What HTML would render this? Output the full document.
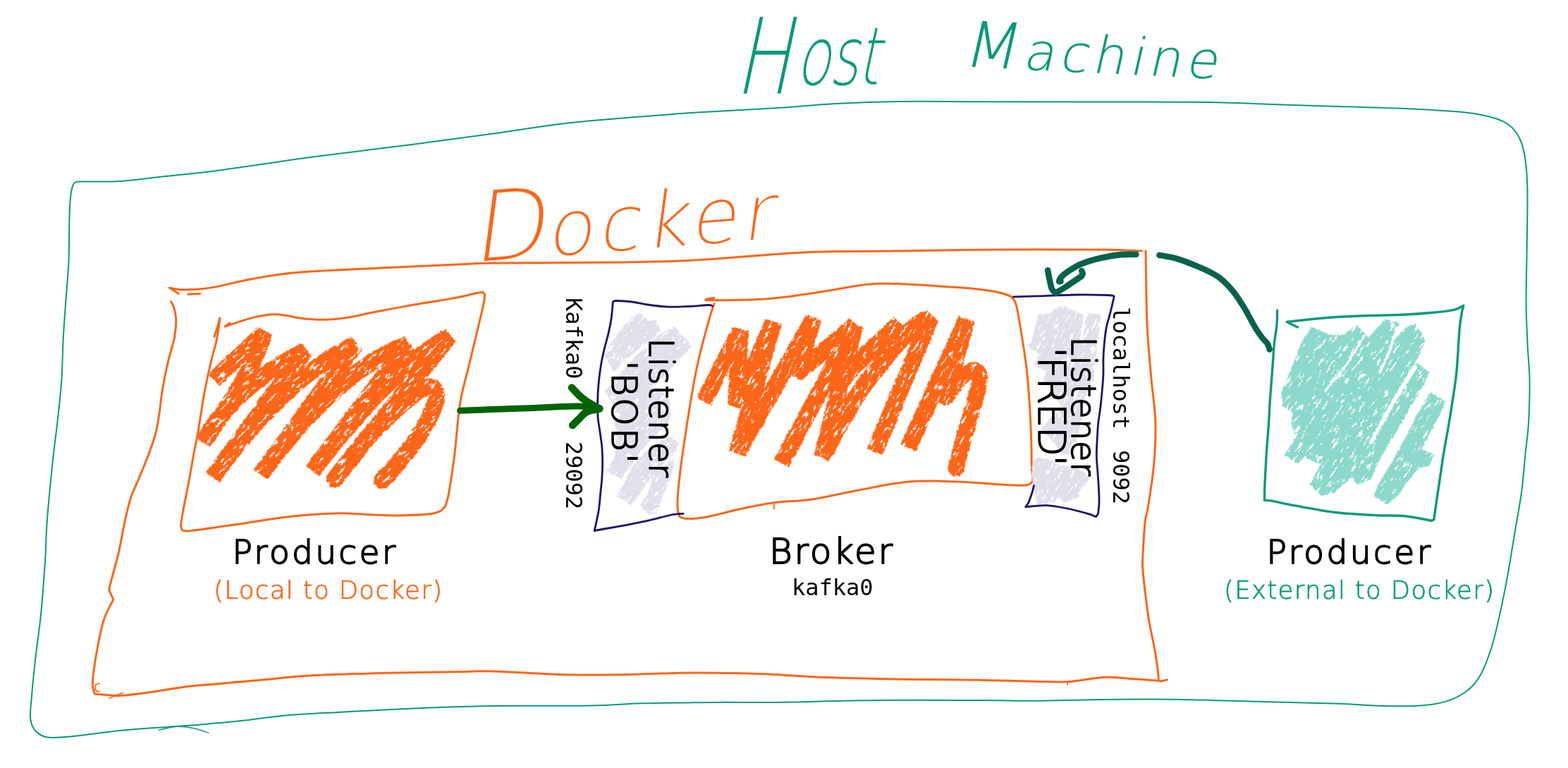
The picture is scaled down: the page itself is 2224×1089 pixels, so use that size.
<!DOCTYPE html>
<html lang="en">
<head>
<meta charset="utf-8">
<title>Kafka listeners - Docker and host machine</title>
<style>
html,body{margin:0;padding:0;background:#fff;}
body{width:2224px;height:1089px;overflow:hidden;position:relative;}
svg{display:block;position:relative;will-change:transform;}
.hand{font-family:"DejaVu Sans","Liberation Sans",sans-serif;}
.mono{font-family:"DejaVu Sans Mono","Liberation Mono",monospace;}
.ttl{position:absolute;margin:0;padding:0;white-space:nowrap;line-height:1;height:1em;transform-origin:0 100%;font-family:"DejaVu Sans","Liberation Sans",sans-serif;font-weight:200;}
#host::first-letter{font-size:150px;letter-spacing:7px;vertical-align:-13px;-webkit-text-stroke:1.4px #fff}
#machine::first-letter{font-size:90px;letter-spacing:8px;vertical-align:0px}
#docker::first-letter{font-size:138px;letter-spacing:0px;vertical-align:0px;-webkit-text-stroke:2px #fff}
</style>
</head>
<body>
<div id="host" class="ttl" style="left:1044px;top:6px;font-size:115px;color:#089a79;-webkit-text-stroke:0.4px #fff;letter-spacing:-3px;transform:rotate(0deg) skewX(-12deg) scaleX(0.7);">Host</div>
<div id="machine" class="ttl" style="left:1365px;top:18px;font-size:73px;color:#089a79;-webkit-text-stroke:0.2px #089a79;letter-spacing:6.6px;transform:rotate(2.8deg) skewX(-10deg) scaleX(1);">Machine</div>
<div id="docker" class="ttl" style="left:670px;top:256px;font-size:110px;color:#fc6618;-webkit-text-stroke:1.1px #fff;letter-spacing:5.5px;transform:rotate(-4.5deg) skewX(-12deg) scaleX(1);">Docker</div>
<svg width="2224" height="1089" viewBox="0 0 2224 1089">
<defs>
<filter id="crayon" x="-5%" y="-5%" width="110%" height="110%" color-interpolation-filters="sRGB">
<feTurbulence type="fractalNoise" baseFrequency="0.06 0.3" numOctaves="3" seed="7" result="n"/>
<feColorMatrix in="n" type="matrix" values="0 0 0 0 0  0 0 0 0 0  0 0 0 0 0  0 0 0 -20 14.1" result="m"/>
<feComposite in="SourceGraphic" in2="m" operator="in" result="t"/>
<feTurbulence type="fractalNoise" baseFrequency="0.25" numOctaves="2" seed="3" result="n2"/>
<feDisplacementMap in="t" in2="n2" scale="4" xChannelSelector="R" yChannelSelector="G"/>
</filter>
</defs>
<path d="M108.2 257.9 C109.3 257.8 104.7 257.7 115 257.5 C125.3 257.3 151.8 258 170.2 256.9 C188.6 255.8 203.7 253.3 225.3 251 C246.9 248.7 277.6 245.8 300 243 C322.4 240.2 336 237.9 360 234.5 C384 231.1 405.9 227.5 443.9 222.5 C481.9 217.5 545.8 209.9 587.8 204.5 C629.8 199.1 665.7 194.3 695.7 190.1 C725.7 185.9 743.6 182.6 767.6 179.4 C791.6 176.2 809.6 173.9 839.6 171.1 C869.6 168.3 917.5 164.6 947.5 162.4 C977.5 160.2 994 159.3 1019.4 157.8 C1044.8 156.3 1071.6 155 1100 153.2 C1128.4 151.4 1160 148.4 1190 146.8 C1220 145.2 1247 144.3 1280 143.9 C1313 143.5 1345.8 144.1 1387.8 144.2 C1429.8 144.3 1477.8 144.5 1531.7 144.6 C1585.7 144.7 1663.5 144.3 1711.5 145 C1759.5 145.7 1788 147.6 1819.4 148.6 C1850.8 149.6 1871.1 150.2 1900 151.1 C1928.9 152 1964.6 152.8 1992.9 154 C2021.2 155.2 2050.8 156.9 2070.1 158.6 C2089.4 160.3 2098.3 162.2 2108.6 164.4 C2118.9 166.7 2125.4 168.9 2131.8 172.1 C2138.2 175.3 2142.7 178.2 2147.2 183.7 C2151.7 189.2 2155.9 196.2 2158.8 204.9 C2161.7 213.6 2163.3 224.1 2164.6 235.7 C2165.9 247.3 2166.3 255 2166.5 274.3 C2166.7 293.6 2166 325.8 2165.7 351.5 C2165.4 377.2 2164.5 406.1 2164.6 428.6 C2164.7 451.1 2165.7 467.9 2166.5 486.5 C2167.3 505.1 2169.3 521.1 2169.6 540 C2169.8 558.9 2168.9 583.3 2168 600 C2167.1 616.7 2165.6 623.7 2163.9 640 C2162.2 656.3 2160.7 678.6 2158.1 697.9 C2155.5 717.2 2151.6 736.4 2148.4 755.7 C2145.2 775 2142.3 794.3 2138.8 813.6 C2135.3 832.9 2131.1 854.1 2127.2 871.5 C2123.3 888.9 2120.1 903.6 2115.6 917.8 C2111.1 931.9 2106 946.1 2100.2 956.4 C2094.4 966.7 2089.2 973.1 2080.9 979.5 C2072.6 985.9 2061.7 991.4 2050.1 994.9 C2038.5 998.4 2027.6 999.7 2011.5 1000.7 C1995.4 1001.7 1972.2 1001.2 1953.6 1000.7 C1935 1000.2 1928.3 998.7 1900 997.7 C1871.7 996.7 1820.9 995.8 1783.5 994.8 C1746.1 993.8 1711.5 992.4 1675.5 991.9 C1639.5 991.4 1600.6 991.6 1567.6 991.9 C1534.6 992.2 1507.7 993.5 1477.7 993.7 C1447.7 993.9 1426.8 993.1 1387.8 993 C1348.8 992.9 1291.9 992.5 1243.9 993 C1195.9 993.5 1137.4 995.4 1100 995.9 C1062.6 996.4 1050.8 995.7 1019.4 995.9 C988 996.1 941.5 996.5 911.5 997.3 C881.5 998.1 875.6 1000 839.6 1000.6 C803.6 1001.2 737.7 1000.2 695.7 1000.9 C653.7 1001.5 623.8 1003 587.8 1004.5 C551.8 1006 509.9 1008.3 479.9 1009.9 C449.9 1011.5 428.9 1012.4 407.9 1014.2 C386.9 1016 372 1018.7 354 1020.7 C336 1022.7 317.3 1024.5 300 1026.1 C282.7 1027.6 270.9 1028.5 250.4 1030 C229.9 1031.5 201.4 1033 176.9 1035.3 C152.4 1037.6 121.6 1042.4 103.5 1044.1 C85.4 1045.8 77 1046.8 68.2 1045.6 C59.4 1044.4 54.8 1041.2 50.6 1036.8 C46.4 1032.4 44.2 1027 43.2 1019.2 C42.2 1011.4 43.5 1004.5 44.7 989.8 C45.9 975.1 48.4 950.6 50.6 931 C52.8 911.4 55.7 894.2 57.9 872.2 C60.1 850.2 62.3 820.8 63.8 798.8 C65.3 776.8 65 763.3 66.7 740 C68.4 716.7 71.8 682.5 74.2 659.1 C76.6 635.7 79.1 619.3 81.3 599.4 C83.5 579.5 85.9 559.6 87.3 539.7 C88.7 519.8 88.7 499.1 89.7 480 C90.7 460.9 92.2 443.3 93.5 425 C94.8 406.7 96.7 388.1 97.5 370 C98.3 351.9 98 329.9 98.3 316.4 C98.6 302.9 98.8 296.3 99.3 288.9 C99.8 281.5 100.2 276.6 101 272 C101.8 267.4 102.9 263.7 104.1 261.3 C105.3 258.9 107.5 258.5 108.2 257.9" fill="none" stroke="#089a79" stroke-width="2" stroke-linecap="round" stroke-linejoin="round"/>
<path d="M225.4 1035.3 C229.6 1034.5 242.3 1030.8 250.4 1030.3 C258.5 1029.8 266.3 1030.9 273.9 1032.4 C281.5 1033.9 292.2 1038 295.9 1039.1" fill="none" stroke="#089a79" stroke-width="1.5" stroke-linecap="round" stroke-linejoin="round"/>
<path d="M1619.6 355.8 C1610 355.5 1596.6 354.3 1562 354 C1527.4 353.7 1462 353.7 1412 354 C1362 354.3 1307.3 355.3 1262 356 C1216.7 356.7 1186.4 355.8 1140 358 C1093.6 360.2 1027.8 366.7 983.8 369 C939.8 371.3 923.1 371.3 875.8 372 C828.5 372.7 736 372.6 700 373 C664 373.4 686.7 373.3 660 374.5 C633.3 375.7 580 378 540 380 C500 382 450.4 383.9 420 386.5 C389.6 389.1 375.7 392.3 357.7 395.5 C339.7 398.7 324 403.2 311.8 405.6 C299.6 408 293.5 408.9 284.3 409.7 C275.1 410.5 264.1 411 256.7 410.7 C249.3 410.4 242.9 408.4 240.2 407.9 L253 416.2" fill="none" stroke="#fc6618" stroke-width="3" stroke-linecap="round" stroke-linejoin="round"/>
<path d="M266.8 417.3 L283.4 416.6" fill="none" stroke="#fc6618" stroke-width="3.0" stroke-linecap="round" stroke-linejoin="round"/>
<path d="M242.5 427.6 C243.2 429 245.4 432.2 246.6 435.9 C247.8 439.6 248.9 445.1 249.4 449.7 C249.9 454.3 249.7 458.9 249.4 463.5 C249.1 468.1 247.8 474.4 247.5 477.2 C247.2 479.9 248.9 473.6 247.3 480 C245.7 486.4 240.5 503.9 237.7 515.8 C234.9 527.7 232.6 539.7 230.6 551.6 C228.6 563.5 227.4 577 225.8 587.4 C224.2 597.8 223.4 604.5 221 613.7 C218.6 622.9 215.5 631.6 211.5 642.4 C207.5 653.1 201.5 667.5 197.1 678.2 C192.7 688.9 188.6 696.5 185.2 706.8 C181.8 717.1 179.8 727.1 176.9 740 C174.1 752.9 171.5 769.4 168.1 784.1 C164.7 798.8 158.6 819.4 156.4 828.2 C154.2 837 155.2 835.5 154.9 837 L160.8 850.2 C158.6 854.9 151.2 867.1 147.5 878.1 C143.8 889.1 141.1 904 138.7 916.3 C136.3 928.5 134.1 942.3 132.9 951.6 C131.7 960.9 131.2 966.8 131.4 972.2 C131.6 977.6 133.8 982 134.3 983.9 L153.4 985.4 C156.3 985.5 162.2 986.8 171 986.3 C179.8 985.8 190.6 984.5 206.3 982.4 C222 980.3 249.5 975.6 265.1 973.6 C280.7 971.6 282.2 972 300 970.4 C317.8 968.8 347.9 966 371.9 963.9 C395.9 961.8 413.9 959.4 443.9 957.8 C473.9 956.2 515.8 955.1 551.8 954.2 C587.8 953.3 635.7 952.8 659.7 952.4 C683.7 952 680.7 951.4 695.7 951.7 C710.7 952 731.6 953.4 749.6 954.2 C767.6 955 782.6 956.3 803.6 956.7 C824.6 957.1 848.5 957.1 875.5 956.7 C902.5 956.3 938.5 954.6 965.5 954.2 C992.5 953.8 1015 954.1 1037.4 954.5 C1059.8 954.9 1077.6 955.4 1100 956.4 C1122.4 957.4 1141.9 959.5 1171.9 960.6 C1201.9 961.7 1243.9 962.6 1279.9 963.2 C1315.9 963.8 1357.8 963.7 1387.8 964.2 C1417.8 964.7 1438.7 965.6 1459.7 966 C1480.7 966.4 1495.7 967.8 1513.7 966.8 C1531.7 965.8 1552.6 961 1567.6 960.3 C1582.6 959.6 1591.6 961.6 1603.6 962.4 C1615.6 963.2 1632.4 964.4 1639.6 965 C1646.8 965.6 1645.3 965.8 1646.5 966 L1655.6 963.9" fill="none" stroke="#fc6618" stroke-width="3" stroke-linecap="round" stroke-linejoin="round"/>
<path d="M141 969 C140 969.5 135.8 970.3 135 972 C134.2 973.7 135 977.5 136 979 C137 980.5 140.2 980.7 141 981" fill="none" stroke="#fc6618" stroke-width="1.8" stroke-linecap="round" stroke-linejoin="round"/>
<path d="M155 990 L174 982.4" fill="none" stroke="#fc6618" stroke-width="1.8" stroke-linecap="round" stroke-linejoin="round"/>
<path d="M1513.8 967.2 L1514.5 971" fill="none" stroke="#fc6618" stroke-width="1.8" stroke-linecap="round" stroke-linejoin="round"/>
<path d="M1625 356 C1625.3 373.1 1625.7 428.2 1627 458.4 C1628.3 488.6 1631 514.4 1633 537.4 C1635 560.4 1638.1 576.9 1638.8 596.6 C1639.5 616.3 1638.5 636.1 1636.9 655.8 C1635.3 675.5 1631.2 700.8 1629 715 C1626.8 729.2 1625.3 730 1624 741.3 C1622.7 752.6 1621.8 772 1621.2 782.6 C1620.7 793.2 1620.2 795.5 1620.7 804.7 C1621.2 813.9 1622.5 825.3 1624 837.7 C1625.5 850.1 1627.2 865.3 1629.5 879.1 C1631.8 892.9 1635.6 908.9 1637.7 920.4 C1639.8 931.9 1641 940.8 1641.9 947.9 C1642.8 955 1643.1 960.6 1643.3 963.1" fill="none" stroke="#fc6618" stroke-width="3" stroke-linecap="round" stroke-linejoin="round"/>
<path d="M325.6 458 L319.2 463 C322.6 461.9 333 458.2 339.4 456.1 C345.8 454 351.6 452.1 357.7 450.6 C363.8 449.1 370.7 447.7 376.1 446.9 C381.5 446.1 385.3 445.8 389.9 445.8 C394.5 445.8 397.5 446 403.7 446.9 C409.9 447.8 417.5 450.2 427 451.3 C436.5 452.4 449.5 453.5 460.7 453.3 C471.9 453.1 482 451.8 494.4 449.9 C506.8 448 519.1 444.8 534.9 441.8 C550.6 438.8 570.9 434.9 588.9 431.7 C606.9 428.5 628.2 425.6 642.8 422.9 C657.4 420.2 669.5 416.9 676.5 415.5 C683.5 414.1 683.2 414.4 684.6 414.2 L687.3 416.9 C687.2 418.6 687.8 420.8 686.7 427 C685.6 433.2 683 443.9 680.6 454 C678.2 464.1 675.2 476.5 672.5 487.7 C669.8 498.9 667.7 507.4 664.4 521.4 C661.1 535.4 655.8 551.6 652.6 571.4 C649.4 591.2 647.2 623.3 645.3 640 C643.4 656.7 642.6 661.1 641 671.7 C639.4 682.3 637.4 695.6 635.8 703.4 C634.2 711.1 632.2 715.7 631.5 718.2 L625.2 724.5 C622.7 725.2 619.9 727.7 610.4 728.8 C600.9 729.9 582.2 730.7 568.1 730.9 C554 731.1 540 730.3 525.9 729.8 C511.8 729.3 497.7 727.7 483.6 727.7 C469.5 727.7 455.4 728.8 441.3 729.8 C427.2 730.8 416.7 731.7 399.1 734 C381.5 736.3 356.8 740.5 335.7 743.6 C314.6 746.7 285.2 751 272.3 752.4 C259.4 753.8 260.8 752.1 258.5 752 L256.4 745.7 C256.9 742.2 257.7 735.1 259.6 724.5 C261.5 713.9 265.4 696.4 268 682.3 C270.6 668.2 273.3 651.4 275.4 640 C277.5 628.6 278.3 627.6 280.7 613.7 C283.1 599.8 286.8 573.7 290 556.4 C293.2 539.1 297.4 521.1 300 510 C302.6 498.9 304 495.5 305.4 490 C306.8 484.5 307.3 482.4 308.2 477.2 C309.1 472 310.3 463.2 310.9 458.9 C311.5 454.5 311.6 452.4 311.8 451.1 L309 462 L304 477.2" fill="none" stroke="#fc6618" stroke-width="3" stroke-linecap="round" stroke-linejoin="round"/>
<g transform="rotate(-45 1112 545)" filter="url(#crayon)"><g transform="rotate(45 1112 545)">
<path d="M303.2 538.7 L374.4 472 Q360.6 526.8 288.4 626.5 Q331.4 549.2 432.8 497.5 L301.5 676.7 Q406.5 533.3 503.9 488.5 L370 673 Q477.1 525.4 577.8 488.5 L443.5 668 Q550.9 524.4 637.4 476.9 L474.5 679.5" fill="none" stroke="#fc6618" stroke-width="24" stroke-linecap="butt" stroke-linejoin="bevel"/>
<path d="M474.5 679.5 C482.1 669.9 507.4 636.6 520 622 C532.6 607.4 541.3 600.3 550 592 C558.7 583.7 564.9 578.4 572.3 572 C579.7 565.6 588.1 557.5 594.4 553.6 C600.7 549.7 606 548 610 548.6 C614 549.2 617.5 552.6 618.6 557 C619.7 561.4 619 567 616.4 574.7 C613.8 582.4 609.1 593 603.2 603.3 C597.3 613.6 588.5 626.5 581.1 636.4 C573.8 646.3 565.6 655.5 559.1 662.9 C552.6 670.3 544.9 678 542 681" fill="none" stroke="#fc6618" stroke-width="24" stroke-linecap="round" stroke-linejoin="round"/>
</g></g>
<g transform="rotate(-58 1112 545)" filter="url(#crayon)"><g transform="rotate(58 1112 545)">
<path d="M998.4 569.6 L1049.6 468.7 L1044.1 575.6 L1097 456.5 L1045.9 641.7 L1154.3 451.5 L1128.5 531.1 L1212.7 460.9 L1108.5 657.1" fill="none" stroke="#fc6618" stroke-width="24" stroke-linecap="butt" stroke-linejoin="bevel"/>
<path d="M1212.7 460.9 L1165.8 648.3" fill="none" stroke="#fc6618" stroke-width="24" stroke-linecap="butt" stroke-linejoin="bevel"/>
<path d="M1165.8 648.3 C1174.8 632.7 1199.4 584.2 1219.8 554.6 C1240.2 525.1 1271.5 488.3 1288.2 470.9 C1304.9 453.4 1314.8 453.4 1320.1 449.9 L1240.8 640.6" fill="none" stroke="#fc6618" stroke-width="24" stroke-linecap="butt" stroke-linejoin="bevel"/>
<path d="M1189 546 L1208.8 521.6 L1276.1 457.6" fill="none" stroke="#fc6618" stroke-width="24" stroke-linecap="butt" stroke-linejoin="bevel"/>
<path d="M1288.2 635.1 L1370.8 453.2 L1341.1 563.4" fill="none" stroke="#fc6618" stroke-width="24" stroke-linecap="butt" stroke-linejoin="bevel"/>
<path d="M1341.1 563.4 C1344.8 558.7 1356.5 541.2 1363.1 534.8 C1369.7 528.4 1376.4 525.2 1380.8 524.9 C1385.2 524.5 1388.5 528.4 1389.6 532.6 C1390.7 536.8 1389.6 540.7 1387.4 550.2 C1385.2 559.8 1380 577 1376.4 589.9 C1372.7 602.8 1368.7 615.1 1365.3 627.4 C1362 639.7 1357.6 657.7 1356.1 663.7" fill="none" stroke="#fc6618" stroke-width="23" stroke-linecap="round" stroke-linejoin="round"/>
</g></g>
<path d="M1002.7 424 C1004.4 423.7 1012.6 422 1012.9 422.3 C1013.2 422.6 992.2 425.4 1004.4 425.7 C1016.6 426 1061 425.7 1085.9 424 C1110.9 422.3 1131.2 418.8 1153.9 415.5 C1176.6 412.2 1204.9 406.5 1221.9 404.3 C1238.9 402 1238.9 401.7 1255.9 401.9 C1272.8 402.1 1301.2 403.9 1323.8 405.3 C1346.5 406.7 1374.8 408.4 1391.8 410.4 C1408.8 412.4 1417.8 414.4 1425.8 417.2 C1433.7 420 1436 420.6 1439.4 427.4 C1442.8 434.2 1443.3 441.5 1446.2 458 C1449 474.4 1453.8 503.3 1456.4 525.9 C1458.9 548.6 1460.3 571.2 1461.5 593.9 C1462.6 616.6 1463.2 646.6 1463.2 661.9 C1463.2 677.2 1467.7 681.4 1461.5 685.7 C1455.2 689.9 1443 687.8 1425.8 687.4 C1408.5 686.9 1380.5 683.7 1357.8 682.9 C1335.1 682.2 1312.5 681.1 1289.8 682.9 C1267.2 684.8 1244.5 690 1221.9 694.2 C1199.2 698.3 1174.6 704.6 1153.9 707.7 C1133.2 710.9 1114.8 710.6 1097.8 712.8 C1080.8 715.1 1068.1 717.9 1052 721.3 C1035.8 724.7 1014.6 731 1001 733.2 C987.4 735.5 976.9 736.1 970.4 734.9 C963.9 733.8 963.3 733 961.9 726.4 C960.5 719.9 960.5 712.3 961.9 695.9 C963.3 679.4 966.1 656.2 970.4 627.9 C974.6 599.6 981.7 554.3 987.4 525.9 C993 497.6 1000.1 473.8 1004.4 458 C1008.6 442.1 1011.5 435.3 1012.9 430.8" fill="none" stroke="#fc6618" stroke-width="3.0" stroke-linecap="round" stroke-linejoin="round"/>
<path d="M1097.8 712.8 L1097.8 721.3" fill="none" stroke="#fc6618" stroke-width="2" stroke-linecap="round" stroke-linejoin="round"/>
<g transform="rotate(-50 1112 545)" filter="url(#crayon)"><g transform="rotate(50 1112 545)">
<path d="M856.8 503.5 L871.4 525.5 L883.2 513.7 L903.8 496.1 L936.8 469.7 L929.5 455 L921.4 456.4 L908.2 444.7 L893.5 452 L874.4 477Z" fill="#e1dfea" stroke="#e1dfea" stroke-width="1.5" stroke-linejoin="round"/>
<path d="M939 472.6 L956.7 463.8 L980.2 490.2 L965.5 506.4 L947.8 525.5 L927.3 547.5 L903.8 576.9 L881.7 588.7 L874.4 582.8 L859.7 554.9 L878.8 532.8 L903.8 503.5Z" fill="#e1dfea" stroke="#e1dfea" stroke-width="1.5" stroke-linejoin="round"/>
<path d="M874.4 609.1 L903.8 590 L950.8 590 L947.8 598.8 L925.8 619.4 L903.8 645.8 L893.5 660.5 L880.3 678.2 L859.7 666.4 L871.4 651.7 L874.4 634.1Z" fill="#e1dfea" stroke="#e1dfea" stroke-width="1.5" stroke-linejoin="round"/>
<path d="M881.7 588.7 L903.8 576.9 L927.3 547.5 L947.8 562.2 L950.8 590 L903.8 590 L874.4 609.1 L871.4 599Z" fill="#e1dfea" stroke="#e1dfea" stroke-width="1.5" stroke-linejoin="round"/>
<path d="M918.5 638.5 L944.9 620.9 L953.7 620.1 L961.1 628.2 L958.1 638.5 L933.2 666.4 L915.5 685.5 L903.8 704.6 L895 714.9 L875.9 703.1 L886.1 685.5 L896.4 663.5Z" fill="#e1dfea" stroke="#e1dfea" stroke-width="1.5" stroke-linejoin="round"/>
<path d="M927.3 672.3 L947.8 656.1 L956.7 651.7 L953.7 666.4 L944.9 689.9 L939 706.1 L930.2 726.6 L921.4 729.6 L908.2 716.4 L918.5 701.7 L924.3 685.5Z" fill="#e1dfea" stroke="#e1dfea" stroke-width="1.5" stroke-linejoin="round"/>
</g></g>
<g transform="rotate(-60 1112 545)" filter="url(#crayon)"><g transform="rotate(60 1112 545)">
<path d="M1473.8 446.4 L1490 445.7 L1495.8 439.1 L1505.4 433.2 L1519.3 439.8 L1536.2 446.4 L1534 464.1 L1531.1 481.7 L1542.8 496.4 L1551.7 514 L1550.2 537.5 L1542.8 552.2 L1531.1 580 L1509.1 580 L1495.8 559.6 L1481.1 537.5 L1484.1 525.8 L1467.9 517 L1475.3 500.8 L1456.9 490.5 L1463.5 486.1 L1469.4 464.1Z" fill="#e1dfea" stroke="#e1dfea" stroke-width="1.5" stroke-linejoin="round"/>
<path d="M1542.8 443.5 L1561.2 447.2 L1557.5 471.4 L1554.6 493.5 L1553.1 514 L1542.8 502.3 L1537 478.8 L1539.9 456.7Z" fill="#e1dfea" stroke="#e1dfea" stroke-width="1.5" stroke-linejoin="round"/>
<path d="M1509.1 580 L1531.1 580 L1534 594.7 L1528.2 616.7 L1522.3 638.8 L1510.5 646.1 L1488.5 618.2 L1476.7 610.9 L1488.5 594.7Z" fill="#e1dfea" stroke="#e1dfea" stroke-width="1.5" stroke-linejoin="round"/>
<path d="M1465 656.4 L1472.3 649.1 L1488.5 652 L1498.8 659.3 L1522.3 662.3 L1535.5 668.2 L1544.3 678.4 L1534 691.7 L1528.2 704.9 L1509.1 712.2 L1501.7 701.9 L1495.8 710.8 L1472.3 715.2 L1467.9 697.5 L1463.5 675.5Z" fill="#e1dfea" stroke="#e1dfea" stroke-width="1.5" stroke-linejoin="round"/>
</g></g>
<path d="M1010.2 434 C1009.3 433.8 1010.5 432.4 1005 432.5 C999.5 432.6 986.7 434 977.2 434.4 C967.7 434.8 957.7 435.5 947.9 435.1 C938.1 434.7 927.1 433.2 918.5 432 C909.9 430.8 903.5 428.9 896.2 428 C889 427.1 879.4 426.6 875 426.5 C870.6 426.4 870.6 427.3 869.7 427.5 L869.2 430 C868.8 433.7 868.1 444.6 867 452 C865.9 459.4 864.3 466.8 862.6 474.1 C860.9 481.5 858.5 488.8 856.8 496.1 C855.1 503.5 853.5 510.9 852.3 518.2 C851.1 525.6 850.1 532.9 849.4 540.2 C848.7 547.5 848.1 553.9 847.9 562.2 C847.6 570.5 847.4 581.7 847.9 590 C848.4 598.3 849.9 604.6 850.9 612 C851.9 619.4 853.2 626.8 853.8 634.1 C854.4 641.5 854.6 648.8 854.6 656.1 C854.6 663.5 854.3 670.9 853.8 678.2 C853.3 685.6 852.3 692.9 851.6 700.2 C850.9 707.5 850.5 714.9 849.4 722.2 C848.3 729.6 846 739.2 845 744.3 C844 749.3 843.4 751.1 843.1 752.5 L856.8 750 C862.2 749 878.8 746.2 889.1 744.3 C899.4 742.4 908.7 740.6 918.5 738.4 C928.3 736.2 940.8 732.6 947.9 731 C955 729.4 957.5 729.2 961.1 728.8 C964.7 728.4 967.9 728.5 969.2 728.4" fill="none" stroke="#250f66" stroke-width="2.8" stroke-linecap="round" stroke-linejoin="round"/>
<path d="M1437.5 420.9 C1442.9 420.7 1455.4 420.4 1470 419.9 C1484.6 419.4 1508.2 418.2 1525 418 C1541.8 417.8 1561.8 418.2 1571 418.5 C1580.2 418.8 1578.7 419.7 1580.2 419.9 L1579.6 422.9 C1578.9 426.1 1576.9 435.1 1575.2 442 C1573.5 448.9 1570.8 456.8 1569.3 464.1 C1567.8 471.5 1567.1 478.8 1566.4 486.1 C1565.7 493.5 1565.2 500.8 1564.9 508.2 C1564.7 515.5 1565.2 522.9 1564.9 530.2 C1564.7 537.5 1564.1 543.9 1563.4 552.2 C1562.7 560.5 1561.5 571.7 1560.5 580 C1559.5 588.3 1558.2 594.6 1557.5 602 C1556.8 609.4 1556.5 616.8 1556.1 624.1 C1555.7 631.5 1555.2 638.8 1555.3 646.1 C1555.4 653.5 1556.3 660.9 1556.8 668.2 C1557.3 675.6 1557.9 682.9 1558.3 690.2 C1558.7 697.5 1559.1 705.8 1559 712.2 C1558.9 718.6 1557.8 725.7 1557.5 728.4 L1554.6 732.8 C1552.6 732.1 1549.8 730.4 1542.9 728.4 C1536.1 726.4 1523.3 723 1513.5 721 C1503.7 719 1493.9 717 1484.1 716.6 C1474.3 716.2 1459.6 718.4 1454.7 718.8 L1459.1 712.2 C1459.9 709.8 1463 701.4 1464.2 697.5 C1465.4 693.6 1466 690.2 1466.4 688.7" fill="none" stroke="#250f66" stroke-width="2.8" stroke-linecap="round" stroke-linejoin="round"/>
<g transform="rotate(-55 1112 545)" filter="url(#crayon)"><g transform="rotate(55 1112 545)">
<path d="M1861.2 464 L1879.9 473.3 L1891.9 475.9 L1906.5 475.9 L1922.5 461.3 L1935.8 473.3 L1941.1 479.9 L1965.1 453.3 L1983.7 458.6 L1977.1 482.6 L1997 464 L2007.7 460 L2021 482.6 L2015.7 495.9 L2005 517.2 L2010.4 515.9 L2026.3 527.9 L2018.3 546.5 L2002.4 573.1 L1981.1 610.4 L1959.8 645 L1949.1 666.3 L1943.8 679.6 L1925.1 686.3 L1917.2 675.7 L1893.2 697 L1874.6 702.3 L1858.6 686.3 L1877.2 653 L1869.2 657 L1850.6 646.4 L1839.9 657 L1822.6 645 L1839.9 618.4 L1832 602.4 L1834.6 585.1 L1820 575.8 L1818.6 554.5 L1834.6 517.2 L1847.9 482.6Z" fill="#8cd9cc" stroke="#8cd9cc" stroke-width="1.5" stroke-linejoin="round"/>
<path d="M2029 557.2 L2049 569.1 L2041 589.1 L2026.3 615.7 L2015.7 637 L2033 645 L2026.3 661 L2013 662.3 L2002.4 674.3 L1986.4 695.6 L1981.1 703.6 L1966.4 714.3 L1949.1 702.3 L1957.1 685 L1973.1 658.3 L1997 615.7 L2013 583.8Z" fill="#8cd9cc" stroke="#8cd9cc" stroke-width="1.5" stroke-linejoin="round"/>
<path d="M1935.3 475.9 L1911.8 514.6 L1879.9 554.5" fill="none" stroke="#fff" stroke-width="3" stroke-linecap="round"/>
<path d="M1981.6 465.3 L1970.4 498.6 L1957.1 527.9" fill="none" stroke="#fff" stroke-width="4" stroke-linecap="round"/>
<path d="M2007.2 519.9 L1975.7 570.5 L1945.1 626.4" fill="none" stroke="#fff" stroke-width="6" stroke-linecap="round"/>
</g></g>
<path d="M1840.5 464.1 L1825.1 456.4 C1833.8 455.5 1862.1 452.3 1877.2 451 C1892.3 449.7 1903.1 449.1 1915.9 448.5 C1928.8 447.9 1941.2 447.6 1954.3 447.2 C1967.4 446.8 1981.9 446.6 1994.8 446 C2007.7 445.4 2020.2 444.4 2031.5 443.3 C2042.8 442.2 2054.9 441.1 2062.3 439.4 C2069.7 437.7 2073.6 434.3 2075.8 433.3 L2073.9 440.2 C2073.3 444.7 2071.4 452.7 2070.1 467.2 C2068.8 481.7 2067.6 510.3 2065.9 527.4 C2064.2 544.5 2062 556.8 2060 570 C2058 583.2 2056.1 594.7 2054.1 606.4 C2052.1 618.1 2050.1 628 2048.1 640 C2046.1 652 2044.2 665.7 2042.3 678.6 C2040.4 691.5 2038 707.6 2036.6 717.2 C2035.2 726.9 2034.4 733.3 2033.9 736.5 L2030.8 738.4 C2024.4 737.3 2005.1 733.1 1992.2 731.8 C1979.3 730.5 1969.7 731.5 1953.6 730.7 C1937.5 729.9 1915 729 1895.7 726.8 C1876.4 724.5 1853.3 720 1837.9 717.2 C1822.5 714.4 1810.5 711.5 1803.1 710.2 C1795.7 708.9 1795.1 709.5 1793.5 709.4 L1793.8 690 C1794.2 681.7 1795.5 654.8 1796.5 640 C1797.5 625.2 1798.7 613.2 1799.5 601 C1800.3 588.8 1800.5 580.4 1801.4 566.9 C1802.3 553.4 1804 533.2 1805 520 C1806 506.8 1806.3 497.9 1807.3 487.9 C1808.3 477.9 1810.3 467.9 1811 460 C1811.7 452.1 1811.5 443.5 1811.6 440.2" fill="none" stroke="#089a79" stroke-width="3.4" stroke-linecap="round" stroke-linejoin="round"/>
<path d="M652.5 582.3 C660 582 682.4 581.1 697.4 580.6 C712.4 580.1 727.4 579.7 742.4 579.1 C757.4 578.5 774.3 577.5 787.4 577 C800.5 576.5 811 575.6 821.1 576 C831.2 576.4 843.5 578.9 848 579.5" fill="none" stroke="#036303" stroke-width="9" stroke-linecap="round" stroke-linejoin="round"/>
<path d="M811 549.7 C812.7 551.5 817.6 557.1 821.1 560.4 C824.6 563.7 827.4 566.1 832.3 569.3 C837.2 572.5 847.3 577.8 850.3 579.5" fill="none" stroke="#036303" stroke-width="10.5" stroke-linecap="round" stroke-linejoin="round"/>
<path d="M812.1 603.1 C813.6 601.6 817.7 597.3 821.1 594.1 C824.5 590.9 827.4 586.4 832.3 584 C837.2 581.6 847.3 580.2 850.3 579.5" fill="none" stroke="#036303" stroke-width="10.5" stroke-linecap="round" stroke-linejoin="round"/>
<path d="M1644.4 361.8 C1648.6 362.6 1660.3 364.2 1669.4 366.9 C1678.5 369.6 1690.2 374.3 1698.8 377.9 C1707.4 381.4 1714.7 384.8 1720.8 388.2 C1726.9 391.6 1730.6 394.1 1735.5 398.5 C1740.4 402.9 1745.3 408.2 1750.2 414.6 C1755.1 421 1760 428.6 1764.9 436.7 C1769.8 444.8 1775.4 456.1 1779.6 463.1 C1783.8 470.1 1786.9 474.5 1789.9 478.5 C1792.9 482.5 1795.7 484.2 1797.5 487 C1799.3 489.8 1800.2 494.1 1800.7 495.5" fill="none" stroke="#06624c" stroke-width="8.4" stroke-linecap="round" stroke-linejoin="round"/>
<path d="M1611.4 360.7 C1607.7 360.8 1597.7 360.3 1589.4 361.1 C1581.1 361.9 1571 363.6 1561.8 365.7 C1552.6 367.8 1541.9 370.9 1534.3 374 C1526.7 377.1 1520.8 380.9 1515.9 384.1 C1511 387.3 1507.2 390.9 1504.9 393.3 C1502.6 395.8 1502.2 397.9 1502.1 398.8 C1502 399.8 1504.1 399 1504.5 399" fill="none" stroke="#06624c" stroke-width="8.6" stroke-linecap="round" stroke-linejoin="round"/>
<path d="M1486.1 383.2 C1486.5 385.2 1487.4 390.7 1488.4 395.1 C1489.4 399.5 1490.5 406.4 1492 409.8 C1493.5 413.2 1496.6 414.4 1497.5 415.3 L1497.5 415.3 C1499.8 413.9 1505.2 411 1511.3 407 C1517.4 403 1530.5 394 1534.3 391.4 L1535.7 387.8 L1534.3 384.1" fill="none" stroke="#06624c" stroke-width="8.6" stroke-linecap="round" stroke-linejoin="round"/>
<text id="prod1" class="hand" font-size="47" fill="#000" font-weight="200" stroke="#000" stroke-width="1.8" stroke-linejoin="round" stroke-linecap="round" textLength="231.5" lengthAdjust="spacing" transform="translate(329.5 799)" xml:space="preserve">Producer</text>
<text id="local" class="hand" font-size="35.5" fill="#fc6618" font-weight="200" stroke="#fc6618" stroke-width="0.7" stroke-linejoin="round" stroke-linecap="round" textLength="324" lengthAdjust="spacing" transform="translate(303 848.5)" xml:space="preserve">(Local to Docker)</text>
<text id="broker" class="hand" font-size="50" fill="#000" font-weight="200" stroke="#000" stroke-width="1.8" stroke-linejoin="round" stroke-linecap="round" textLength="175" lengthAdjust="spacing" transform="translate(1091 798.5)" xml:space="preserve">Broker</text>
<text id="kafka0" class="mono" font-size="32" fill="#000" transform="translate(1123 844)" xml:space="preserve">kafka0</text>
<text id="prod2" class="hand" font-size="47" fill="#000" font-weight="200" stroke="#000" stroke-width="1.8" stroke-linejoin="round" stroke-linecap="round" textLength="232.5" lengthAdjust="spacing" transform="translate(1796.5 799)" xml:space="preserve">Producer</text>
<text id="ext" class="hand" font-size="35.5" fill="#089a79" font-weight="200" stroke="#089a79" stroke-width="0.7" stroke-linejoin="round" stroke-linecap="round" textLength="383" lengthAdjust="spacing" transform="translate(1736 848.5)" xml:space="preserve">(External to Docker)</text>
<text id="kafkaR" class="mono" font-size="32" fill="#000" transform="translate(803 422) rotate(90)" xml:space="preserve">Kafka0</text>
<text id="port1" class="mono" font-size="32" fill="#000" transform="translate(803 626) rotate(90)" xml:space="preserve">29092</text>
<text id="localhost" class="mono" font-size="32" fill="#000" transform="translate(1578.8 435) rotate(90)" xml:space="preserve">localhost</text>
<text id="port2" class="mono" font-size="32" fill="#000" transform="translate(1578.8 638) rotate(90)" xml:space="preserve">9092</text>
<text id="lis1" class="hand" font-size="48" fill="#000" font-weight="200" stroke="#000" stroke-width="1.6" stroke-linejoin="round" stroke-linecap="round" textLength="197.5" lengthAdjust="spacing" transform="translate(921 479.5) rotate(90)" xml:space="preserve">Listener</text>
<text id="bob" class="hand" font-size="50" fill="#000" font-weight="200" stroke="#000" stroke-width="1.6" stroke-linejoin="round" stroke-linecap="round" textLength="145.5" lengthAdjust="spacing" transform="translate(868 511.5) rotate(90)" xml:space="preserve">'BOB'</text>
<text id="lis2" class="hand" font-size="48" fill="#000" font-weight="200" stroke="#000" stroke-width="1.6" stroke-linejoin="round" stroke-linecap="round" textLength="197.5" lengthAdjust="spacing" transform="translate(1520 477.5) rotate(90)" xml:space="preserve">Listener</text>
<text id="fred" class="hand" font-size="54" fill="#000" font-weight="200" stroke="#000" stroke-width="1.6" stroke-linejoin="round" stroke-linecap="round" textLength="168" lengthAdjust="spacing" transform="translate(1472.5 492.5) rotate(90)" xml:space="preserve">'FRED'</text>
</svg>
</body>
</html>
